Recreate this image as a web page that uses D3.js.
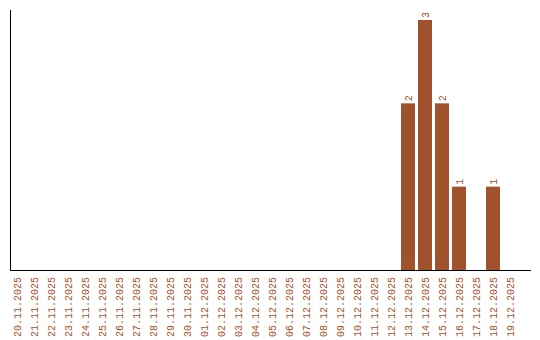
<!DOCTYPE html>
<html>
<head>
<meta charset="utf-8">
<script src="https://cdn.jsdelivr.net/npm/d3@7"></script>
<style>
  body { margin: 0; background: #fff; }
</style>
</head>
<body>
<div id="chart"></div>
<script>
const dates = ["20.11.2025", "21.11.2025", "22.11.2025", "23.11.2025", "24.11.2025", "25.11.2025",
    "26.11.2025", "27.11.2025", "28.11.2025", "29.11.2025", "30.11.2025", "01.12.2025", "02.12.2025",
    "03.12.2025", "04.12.2025", "05.12.2025", "06.12.2025", "07.12.2025", "08.12.2025", "09.12.2025",
    "10.12.2025", "11.12.2025", "12.12.2025", "13.12.2025", "14.12.2025", "15.12.2025", "16.12.2025",
    "17.12.2025", "18.12.2025", "19.12.2025"]
const counts = [0, 0, 0, 0, 0, 0, 0, 0, 0, 0, 0, 0, 0, 0, 0, 0, 0, 0, 0, 0, 0, 0, 0, 2, 3, 2, 1, 0, 1, 0]

const data = dates.map((d, i) => ({ date: d, count: counts[i] }))

const width = 540, height = 340
const baseY = 270 // bottom of the plot
const color = "#a0522d"
const font = "Liberation Mono, Courier New, monospace"

let svg = d3.select("#chart")
    .append("svg")
    .attr("width", width)
    .attr("height", height)

let x = d3.scaleBand() // one band per day
    .domain(dates)
    .range([10, 517])
    .paddingInner(3 / 17)
    .paddingOuter(0)

let y = d3.scaleLinear()
    .domain([0, 3])
    .range([baseY, 20])

// bars
svg.append("g").selectAll("rect").data(data.filter(d => d.count > 0)).enter()
    .append("rect")
    .attr("x", d => x(d.date))
    .attr("y", d => y(d.count))
    .attr("width", x.bandwidth())
    .attr("height", d => baseY - y(d.count))
    .attr("fill", color)

// value labels above bars
svg.append("g").selectAll("text").data(data.filter(d => d.count > 0)).enter()
    .append("text")
    .attr("transform", d => "translate(" + (x(d.date) + x.bandwidth() / 2 + 3.5) + "," + (y(d.count) - 2) + ") rotate(-90)")
    .attr("text-anchor", "start")
    .attr("font-family", font)
    .attr("font-size", 10)
    .attr("fill", color)
    .text(d => d.count)

// x axis: rotated date labels
let xAxis = d3.axisBottom(x).tickSize(0).tickPadding(0)
let gx = svg.append("g")
    .attr("transform", "translate(0," + baseY + ")")
    .call(xAxis)
gx.select(".domain").remove()
gx.selectAll(".tick text")
    .attr("transform", "translate(3.5,7) rotate(-90)")
    .attr("text-anchor", "end")
    .attr("dy", 0)
    .attr("y", 0)
    .attr("font-family", font)
    .attr("font-size", 10)
    .attr("fill", color)

svg.append("line") // x axis line
    .attr("x1", 10).attr("x2", 531)
    .attr("y1", baseY + 0.5).attr("y2", baseY + 0.5)
    .attr("stroke", "black")

svg.append("line") // y axis line
    .attr("x1", 10.5).attr("x2", 10.5)
    .attr("y1", 10).attr("y2", baseY)
    .attr("stroke", "black")
</script>
</body>
</html>
